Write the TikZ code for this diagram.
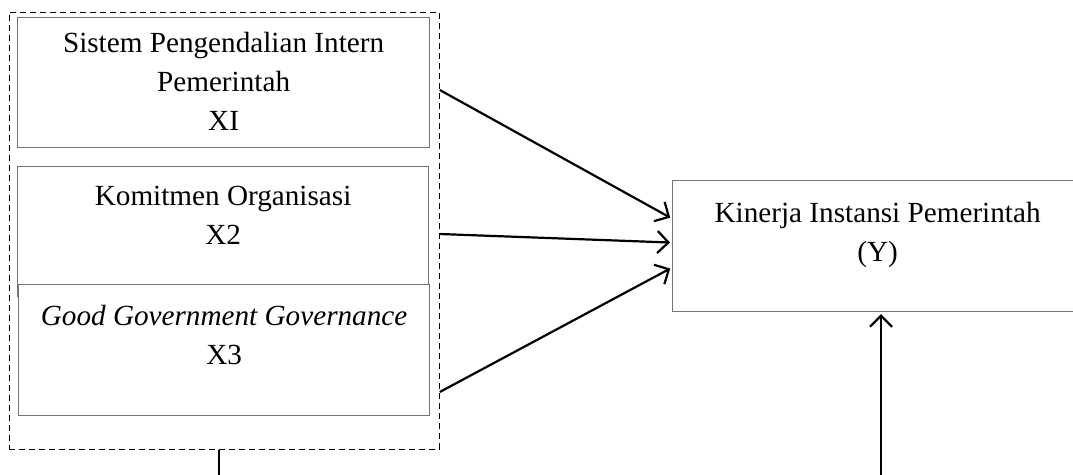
\documentclass[tikz,border=0pt]{standalone}
\usepackage{fontspec}
\setmainfont{Liberation Serif}
\usetikzlibrary{arrows.meta,positioning}
\tikzset{
  varbox/.style={draw=black!55,line width=0.6pt,rectangle,inner sep=0pt,anchor=north west},
  vartext/.style={align=center,inner sep=0pt,font=\fontsize{14.6}{19.5}\selectfont},
  link/.style={line width=1.1pt,shorten >=1pt,-{Straight Barb[length=5.5pt,width=11pt]}}
}

\begin{document}
\begin{tikzpicture}[x=0.5pt,y=-0.5pt]
  \useasboundingbox (0,0) rectangle (1073,475);
  % group of independent variables
  \node[draw,densely dashed,line width=0.4pt,inner sep=0pt,anchor=north west,
        minimum width=215pt,minimum height=218.5pt] (grp) at (9,12) {};
  \node[varbox,minimum width=206pt,minimum height=65pt] (x1) at (17,17) {};
  \node[vartext,below=7.5pt of x1.north] (x1t) {Sistem Pengendalian Intern\\Pemerintah\\XI};
  \node[varbox,minimum width=205.5pt,minimum height=65pt] (x2) at (17,166) {};
  \node[vartext,below=10pt of x2.north] (x2t) {Komitmen Organisasi\\X2};
  \node[varbox,fill=white,minimum width=205.5pt,minimum height=65.5pt] (x3) at (18,284) {};
  \node[vartext,below=10.5pt of x3.north] (x3t) {\textit{Good Government Governance}\\X3};
  % dependent variable
  \node[varbox,minimum width=205pt,minimum height=65.5pt] (kinerja) at (672,180) {};
  \node[vartext,below=11pt of kinerja.north] (kinerjat) {Kinerja Instansi Pemerintah\\(Y)};
  % arrows
  \draw[link] (grp.east |- 0,90) -- ([yshift=13.75pt]kinerja.west);
  \draw[link] (grp.east |- 0,234) -- ([yshift=1.75pt]kinerja.west);
  \draw[link] (grp.east |- 0,392) -- ([yshift=-10.75pt]kinerja.west);
  \coordinate (out) at (219,475);
  \draw[line width=0.9pt] (grp.south -| out) -- (out);
  \coordinate (ein) at (881,475);
  \draw[link] (ein) -- (ein |- kinerja.south);
\end{tikzpicture}
\end{document}
